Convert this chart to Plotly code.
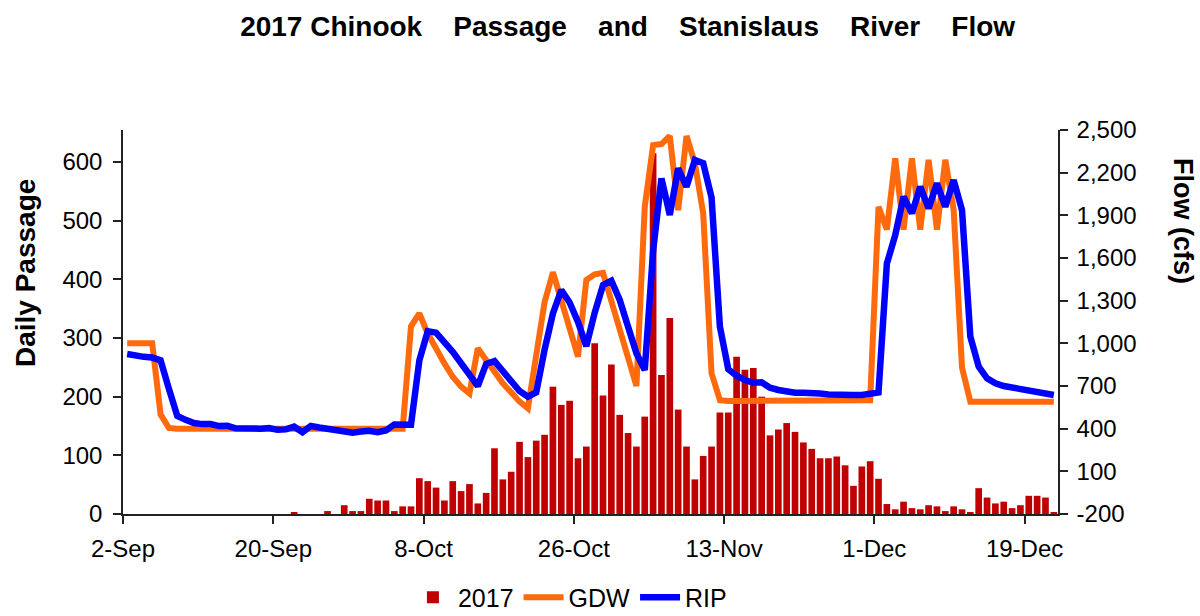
import pandas as pd
import plotly.graph_objects as go

# ---- data (daily, 2-Sep-2017 .. 22-Dec-2017) ----
start_date = "2017-09-02"
n_days = 112

passage_2017 = [
    0, 0, 0, 0, 0, 0, 0, 0, 0, 0,
    0, 0, 0, 0, 0, 0, 0, 0, 0, 0,
    2, 0, 0, 0, 5, 0, 15, 5, 5, 26,
    23, 23, 5, 13, 13, 61, 56, 45, 23, 56,
    39, 51, 18, 36, 112, 59, 72, 123, 97, 125,
    135, 217, 186, 193, 95, 115, 291, 202, 255, 169,
    138, 115, 166, 615, 237, 334, 178, 115, 59, 99,
    115, 173, 173, 268, 246, 249, 200, 134, 144, 155,
    140, 122, 111, 95, 95, 98, 83, 48, 81, 90,
    60, 17, 8, 21, 10, 8, 15, 13, 5, 13,
    8, 3, 44, 28, 18, 21, 10, 15, 31, 31, 28, 3,
]

gdw_flow = [
    1000, 1000, 1000, 1000, 500, 405, 400, 400, 400, 400,
    400, 400, 400, 400, 400, 400, 400, 400, 400, 400,
    400, 400, 400, 400, 400, 400, 400, 400, 400, 400,
    400, 400, 400, 400, 1120, 1210, 1070, 953, 859, 765,
    695, 648, 965, 883, 795, 719, 655, 590, 543, 925,
    1290, 1500, 1290, 1090, 906, 1445, 1485, 1495, 1305, 1094,
    900, 700, 1960, 2394, 2401, 2458, 1937, 2458, 2266, 1914,
    789, 600, 595, 595, 595, 595, 595, 595, 595, 595,
    595, 595, 595, 595, 595, 595, 595, 595, 595, 600,
    1960, 1800, 2300, 1800, 2300, 1800, 2290, 1800, 2290, 1940,
    830, 590, 590, 590, 590, 590, 590, 590, 590, 590, 590, 590,
]

rip_flow = [
    925, 910, 905, 900, 880, 680, 490, 462, 440, 432,
    432, 418, 420, 402, 398, 400, 400, 405, 392, 395,
    414, 375, 419, 408, 400, 390, 374, 372, 380, 385,
    375, 388, 430, 430, 428, 880, 1085, 1075, 1012, 940,
    860, 770, 700, 855, 875, 805, 730, 665, 625, 655,
    955, 1210, 1375, 1287, 1150, 980, 1215, 1410, 1440, 1305,
    1117, 930, 812, 1650, 2160, 1902, 2230, 2101, 2289, 2266,
    2025, 1117, 818, 772, 742, 723, 726, 688, 672, 660,
    653, 653, 653, 648, 641, 637, 644, 637, 637, 641,
    655, 1560, 1760, 2031, 1914, 2102, 1949, 2125, 1961, 2148,
    1937, 1047, 836, 754, 719, 700, 690, 681, 672, 660, 648, 637,
]

x_tick_dates = ["2017-09-02", "2017-09-20", "2017-10-08", "2017-10-26",
                "2017-11-13", "2017-12-01", "2017-12-19"]
x_tick_labels = ["2-Sep", "20-Sep", "8-Oct", "26-Oct", "13-Nov", "1-Dec", "19-Dec"]

left_ticks = [0, 100, 200, 300, 400, 500, 600]
right_ticks = [-200, 100, 400, 700, 1000, 1300, 1600, 1900, 2200, 2500]
right_tick_labels = ["-200", "100", "400", "700", "1,000", "1,300", "1,600",
                     "1,900", "2,200", "2,500"]

dates = pd.date_range(start_date, periods=n_days, freq="D")

FONT = "Liberation Sans, Arial, sans-serif"
DAY_MS = 86400000

fig = go.Figure()
fig.add_trace(go.Bar(
    x=dates, y=passage_2017, name="2017",
    marker=dict(color="#C00000", line=dict(width=0)),
    xperiod=DAY_MS, xperiodalignment="middle",
))
fig.add_trace(go.Scatter(
    x=dates, y=gdw_flow, name="GDW", mode="lines", yaxis="y2",
    line=dict(color="#FF6A0D", width=6),
    xperiod=DAY_MS, xperiodalignment="middle",
))
fig.add_trace(go.Scatter(
    x=dates, y=rip_flow, name="RIP", mode="lines", yaxis="y2",
    line=dict(color="#0000FF", width=6.5),
    xperiod=DAY_MS, xperiodalignment="middle",
))

axis_common = dict(
    showline=True, linecolor="#222222", linewidth=1.5,
    ticks="outside", ticklen=8, tickwidth=1.5, tickcolor="#222222",
    showgrid=False, zeroline=False, automargin=False,
    tickfont=dict(family=FONT, size=24, color="black"),
)

fig.update_layout(
    width=1200, height=616,
    paper_bgcolor="white", plot_bgcolor="white",
    margin=dict(l=123, r=142, t=130, b=102, autoexpand=False),
    bargap=0.2,
    font=dict(family=FONT, color="black"),
    title=dict(
        text="2017 Chinook\u00a0\u00a0\u00a0 Passage\u00a0\u00a0\u00a0 and\u00a0\u00a0\u00a0 Stanislaus\u00a0\u00a0\u00a0 River\u00a0\u00a0\u00a0 Flow",
        x=0.523, xanchor="center", y=0.958, yanchor="middle",
        font=dict(family=FONT, size=28, weight="bold", color="black"),
    ),
    xaxis=dict(
        type="date",
        range=["2017-09-02", "2017-12-23"],
        tickvals=x_tick_dates, ticktext=x_tick_labels,
        ticklabelstandoff=4,
        **axis_common,
    ),
    yaxis=dict(
        range=[0, 654.5], tickvals=left_ticks,
        ticklabelstandoff=6,
        **axis_common,
    ),
    yaxis2=dict(
        range=[-200, 2500], tickvals=right_ticks, ticktext=right_tick_labels,
        overlaying="y", side="right", anchor="x",
        ticklabelstandoff=4,
        **axis_common,
    ),
    legend=dict(
        orientation="h", x=0.478, xanchor="center",
        yref="container", y=0.03, yanchor="middle",
        font=dict(family=FONT, size=25, color="black"),
        itemwidth=40, tracegroupgap=0, bgcolor="rgba(0,0,0,0)",
    ),
    annotations=[
        dict(text="Daily Passage", xref="paper", yref="paper",
             x=-0.1048, y=0.6276, xanchor="center", yanchor="middle",
             textangle=-90, showarrow=False,
             font=dict(family=FONT, size=28, weight="bold", color="black")),
        dict(text="Flow (cfs)", xref="paper", yref="paper",
             x=1.1337, y=0.763, xanchor="center", yanchor="middle",
             textangle=90, showarrow=False,
             font=dict(family=FONT, size=27, weight="bold", color="black")),
    ],
)

fig.write_html(
    "out.html",
    config={"displayModeBar": False},
    post_script="document.body.style.margin='0';document.body.style.overflow='hidden';",
)
